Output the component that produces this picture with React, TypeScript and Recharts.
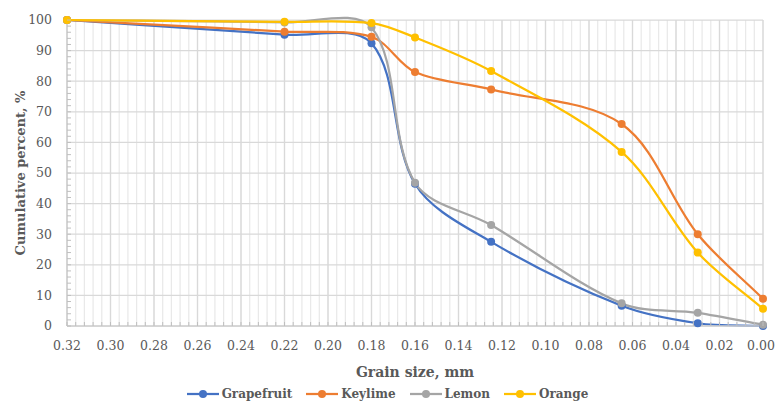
import React from "react";
import {
  LineChart,
  Line,
  XAxis,
  YAxis,
  CartesianGrid,
  Legend,
} from "recharts";

const sizes = [0.32, 0.22, 0.18, 0.16, 0.125, 0.065, 0.03, 0];
const grapefruit = [100, 95.2, 92.4, 46.5, 27.5, 6.6, 0.9, 0];
const keylime = [100, 96.2, 94.5, 83, 77.3, 66, 30, 8.9];
const lemon = [100, 99.2, 97.6, 46.8, 33, 7.4, 4.3, 0.4];
const orange = [100, 99.4, 99, 94.3, 83.3, 56.9, 24, 5.6];

const xTicks = [0.32, 0.3, 0.28, 0.26, 0.24, 0.22, 0.2, 0.18, 0.16, 0.14, 0.12, 0.1, 0.08, 0.06, 0.04, 0.02, 0];
const yTicks = [0, 10, 20, 30, 40, 50, 60, 70, 80, 90, 100];
const xMinorTicks = Array.from({ length: 81 }, (_, i) => +(i * 0.004).toFixed(3));
const yMinorTicks = Array.from({ length: 51 }, (_, i) => i * 2);

const series = [
  { key: "Grapefruit", color: "#4472C4", values: grapefruit },
  { key: "Keylime", color: "#ED7D31", values: keylime },
  { key: "Lemon", color: "#A5A5A5", values: lemon },
  { key: "Orange", color: "#FFC000", values: orange },
];

const data = sizes.map((size, i) => {
  const row: Record<string, number> = { size };
  series.forEach((s) => (row[s.key] = s.values[i]));
  return row;
});

const FONT = "'DejaVu Serif', 'Liberation Serif', serif";
const TEXT = "#595959";
const MINOR_TICK = "#bfbfbf";

// smoothed line like Excel's: cubic beziers, tangents weighted by segment length
const dist = (a: number[], b: number[]) => Math.hypot(b[0] - a[0], b[1] - a[1]);
const excelCurve = (context: any) => {
  let pts: number[][] = [];
  return {
    areaStart() {},
    areaEnd() {},
    lineStart() {
      pts = [];
    },
    point(x: number, y: number) {
      pts.push([+x, +y]);
    },
    lineEnd() {
      const n = pts.length;
      if (!n) return;
      context.moveTo(pts[0][0], pts[0][1]);
      for (let i = 0; i < n - 1; i++) {
        const p0 = pts[Math.max(i - 1, 0)];
        const p1 = pts[i];
        const p2 = pts[i + 1];
        const p3 = pts[Math.min(i + 2, n - 1)];
        const d01 = dist(p0, p1);
        const d12 = dist(p1, p2);
        const d23 = dist(p2, p3);
        const f1 = d12 / (3 * (d01 + d12));
        const f2 = d12 / (3 * (d12 + d23));
        context.bezierCurveTo(
          p1[0] + (p2[0] - p0[0]) * f1,
          p1[1] + (p2[1] - p0[1]) * f1,
          p2[0] - (p3[0] - p1[0]) * f2,
          p2[1] - (p3[1] - p1[1]) * f2,
          p2[0],
          p2[1]
        );
      }
    },
  };
};

const isMajorX = (v: number) => xTicks.some((t) => Math.abs(t - v) < 1e-6);
const isMajorY = (v: number) => yTicks.includes(v);

// x tick: small inside mark on every minor step, label on major steps
const XTick = (props: any) => {
  const { x, y, payload } = props;
  const v = Number(payload.value);
  return (
    <g>
      <line x1={x} y1={y} x2={x} y2={y - 4} stroke={MINOR_TICK} />
      {isMajorX(v) && (
        <text
          x={x}
          y={y + 15}
          dy="0.71em"
          dx={v === 0 ? -2 : 0}
          textAnchor="middle"
          fill={TEXT}
          fontSize={12.5}
          fontFamily={FONT}
        >
          {v.toFixed(2)}
        </text>
      )}
    </g>
  );
};

const YTick = (props: any) => {
  const { x, y, payload } = props;
  const v = Number(payload.value);
  return (
    <g>
      <line x1={x} y1={y} x2={x + 4} y2={y} stroke={MINOR_TICK} />
      {isMajorY(v) && (
        <text
          x={x - 15}
          y={y}
          dy="0.355em"
          textAnchor="end"
          fill={TEXT}
          fontSize={12.5}
          fontFamily={FONT}
        >
          {v}
        </text>
      )}
    </g>
  );
};

const renderLegend = () => (
  <div
    style={{
      display: "flex",
      justifyContent: "center",
      alignItems: "center",
      gap: 14,
      height: 20,
      fontFamily: FONT,
      fontWeight: 700,
      fontSize: 12,
      color: TEXT,
    }}
  >
    {series.map((s) => (
      <div key={s.key} style={{ display: "flex", alignItems: "center" }}>
        <svg width={32} height={10} style={{ marginRight: 3 }}>
          <line x1={0} y1={5} x2={32} y2={5} stroke={s.color} strokeWidth={2.25} />
          <circle cx={16} cy={5} r={4} fill={s.color} />
        </svg>
        <span>{s.key}</span>
      </div>
    ))}
  </div>
);

export default function App() {
  return (
    <div style={{ position: "absolute", left: 0, top: 0 }}>
      <LineChart
        width={775}
        height={404}
        data={data}
        margin={{ top: 20, right: 12, bottom: 0, left: 0 }}
      >
        <CartesianGrid horizontal={false} verticalValues={xMinorTicks} stroke="#e9e9e9" strokeWidth={1.25} />
        <CartesianGrid verticalValues={xTicks} horizontalValues={yTicks} stroke="#d9d9d9" strokeWidth={1.25} />
        <XAxis
          dataKey="size"
          type="number"
          domain={[0, 0.32]}
          reversed
          ticks={xMinorTicks}
          interval={0}
          height={58}
          tickLine={false}
          tickSize={0}
          tickMargin={0}
          axisLine={{ stroke: "#d0d0d0", strokeWidth: 1.5 }}
          tick={<XTick />}
          label={{
            value: "Grain size, mm",
            position: "insideBottom",
            offset: 7,
            fill: TEXT,
            fontSize: 14,
            fontWeight: 700,
            fontFamily: FONT,
          }}
        />
        <YAxis
          type="number"
          domain={[0, 100]}
          ticks={yMinorTicks}
          interval={0}
          width={67}
          tickLine={false}
          tickSize={0}
          tickMargin={0}
          axisLine={{ stroke: "#d0d0d0", strokeWidth: 1.5 }}
          tick={<YTick />}
          label={{
            value: "Cumulative percent, %",
            angle: -90,
            position: "insideLeft",
            offset: 20,
            style: { textAnchor: "middle" },
            fill: TEXT,
            fontSize: 13,
            fontWeight: 700,
            fontFamily: FONT,
          }}
        />
        {series.map((s) => (
          <Line
            key={s.key}
            dataKey={s.key}
            name={s.key}
            type={excelCurve as any}
            stroke={s.color}
            strokeWidth={2.25}
            dot={{ r: 4, fill: s.color, stroke: s.color, strokeWidth: 0 }}
            activeDot={false}
            isAnimationActive={false}
          />
        ))}
        <Legend
          verticalAlign="bottom"
          content={renderLegend}
          wrapperStyle={{ left: 0, bottom: 0, width: 775 }}
        />
      </LineChart>
    </div>
  );
}
